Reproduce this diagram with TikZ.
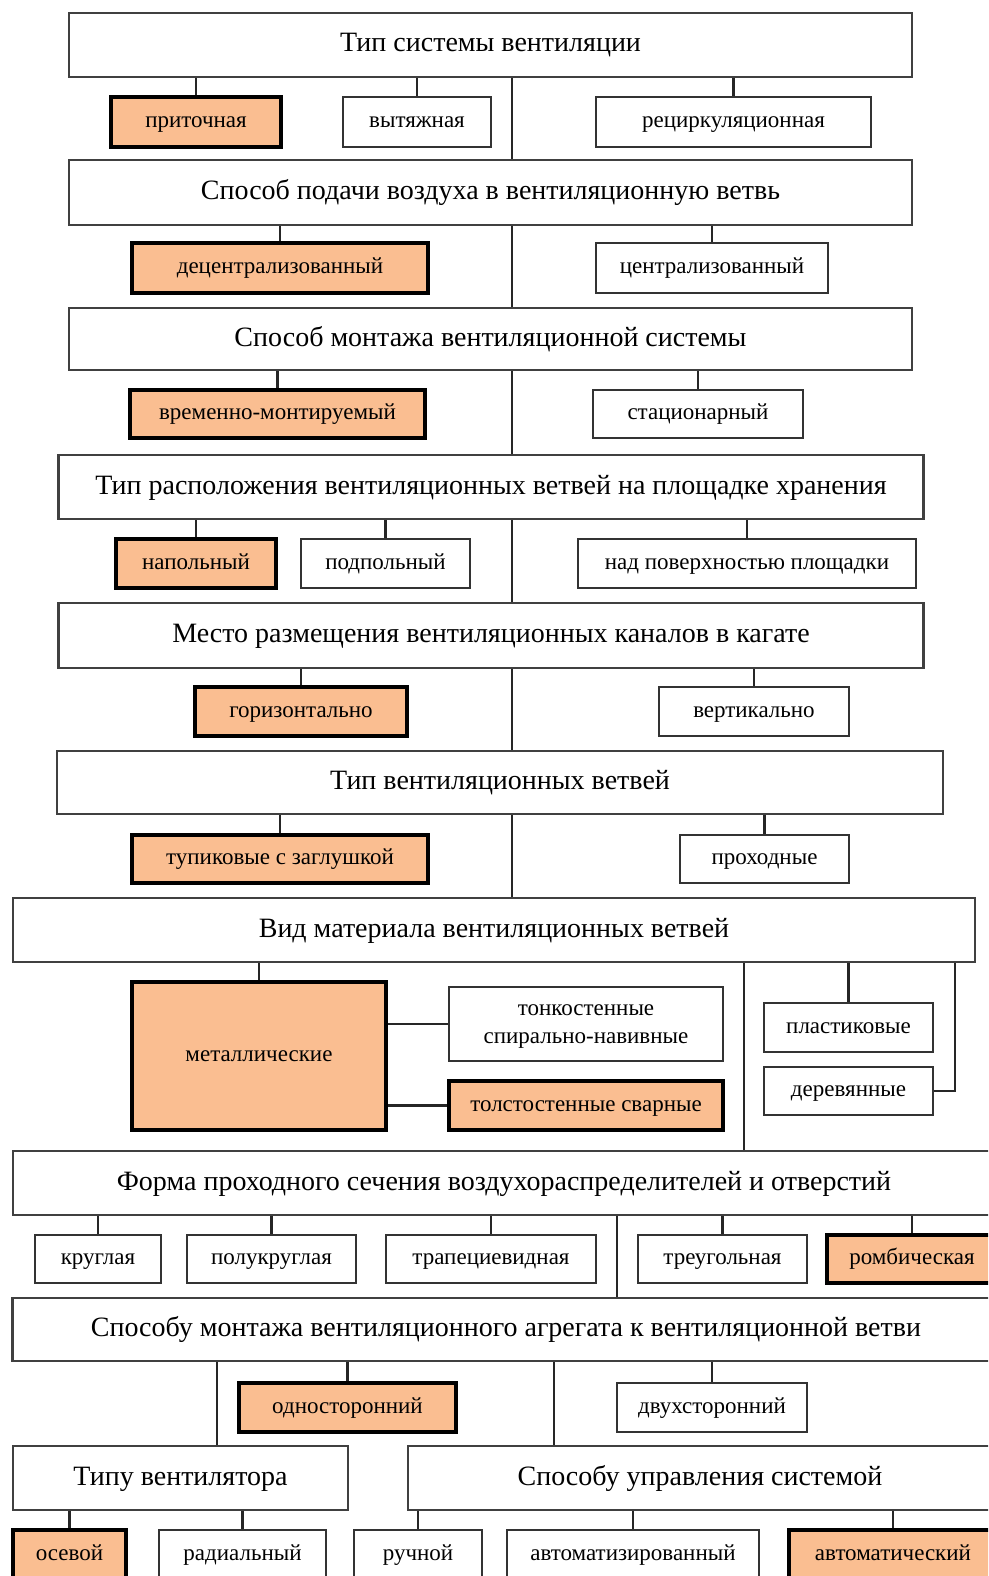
\documentclass[tikz,border=0pt]{standalone}
\usepackage{fontspec}
\setmainfont{Liberation Serif}
\definecolor{peach}{RGB}{250,190,145}
\tikzset{
  head/.style={draw=black!75, line width=2.6pt, fill=white, inner sep=0pt, text height=17pt, text depth=3pt, font=\fontsize{28}{32}\selectfont},
  item/.style={draw=black!80, line width=2.4pt, fill=white, inner sep=0pt, align=center, text height=14pt, text depth=2.5pt, font=\fontsize{23}{28}\selectfont},
  chosen/.style={item, draw=black, line width=4pt, fill=peach},
  link/.style={line width=2.4pt, draw=black!85},
}
\begin{document}
\begin{tikzpicture}[x=1pt, y=-1pt]
\useasboundingbox (0,0) rectangle (988,1576);
\clip (0,0) rectangle (988,1576);
% system type
\node[head, minimum width=843pt, minimum height=64pt] (typ) at (490.5,45) {Тип системы вентиляции};
\node[chosen, minimum width=170pt, minimum height=50pt] (pri) at (196,122) {приточная};
\node[item, minimum width=148pt, minimum height=50pt] (vyt) at (417,122) {вытяжная};
\node[item, minimum width=275pt, minimum height=50pt] (rec) at (733.5,122) {рециркуляционная};
% air supply
\node[head, minimum width=843pt, minimum height=65pt] (podacha) at (490.5,192.5) {Способ подачи воздуха в вентиляционную ветвь};
\node[chosen, minimum width=296pt, minimum height=50pt] (decen) at (280,268) {децентрализованный};
\node[item, minimum width=232pt, minimum height=50pt] (cen) at (712,268) {централизованный};
% mounting
\node[head, minimum width=843pt, minimum height=62pt] (montazh) at (490.5,339) {Способ монтажа вентиляционной системы};
\node[chosen, minimum width=295pt, minimum height=48pt] (vrem) at (277.5,414) {временно-монтируемый};
\node[item, minimum width=210pt, minimum height=48pt] (stac) at (698,414) {стационарный};
% layout
\node[head, minimum width=865pt, minimum height=64pt] (raspol) at (491,487) {Тип расположения вентиляционных ветвей на площадке хранения};
\node[chosen, minimum width=160pt, minimum height=49pt] (napol) at (196,563.5) {напольный};
\node[item, minimum width=169pt, minimum height=49pt] (podpol) at (385.5,563.5) {подпольный};
\node[item, minimum width=338pt, minimum height=49pt] (nadpov) at (747,563.5) {над поверхностью площадки};
% channel place
\node[head, minimum width=865pt, minimum height=65pt] (mesto) at (491,635.5) {Место размещения вентиляционных каналов в кагате};
\node[chosen, minimum width=212pt, minimum height=49pt] (gor) at (301,711.5) {горизонтально};
\node[item, minimum width=190pt, minimum height=49pt] (vert) at (754,711.5) {вертикально};
% branch type
\node[head, minimum width=886pt, minimum height=63pt] (tipvet) at (500,782.5) {Тип вентиляционных ветвей};
\node[chosen, minimum width=296pt, minimum height=48pt] (tup) at (280,859) {тупиковые с заглушкой};
\node[item, minimum width=169pt, minimum height=48pt] (proh) at (764.5,859) {проходные};
% material
\node[head, minimum width=962pt, minimum height=64pt] (mater) at (494,930) {Вид материала вентиляционных ветвей};
\node[chosen, minimum width=254pt, minimum height=148pt] (metal) at (259,1056) {металлические};
\node[item, minimum width=274pt, minimum height=74pt, text height=42pt] (tonk) at (586,1024) {тонкостенные\\спирально-навивные};
\node[chosen, minimum width=274pt, minimum height=49pt] (tolst) at (586,1105.5) {толстостенные сварные};
\node[item, minimum width=169pt, minimum height=49pt] (plast) at (848.5,1027.5) {пластиковые};
\node[item, minimum width=169pt, minimum height=48pt] (derev) at (848.5,1091) {деревянные};
% cross-section
\node[head, minimum width=982pt, minimum height=64pt] (forma) at (504,1183) {Форма проходного сечения воздухораспределителей и отверстий};
\node[item, minimum width=126pt, minimum height=48pt] (krug) at (98,1259) {круглая};
\node[item, minimum width=169pt, minimum height=48pt] (polukr) at (271.5,1259) {полукруглая};
\node[item, minimum width=210pt, minimum height=48pt] (trap) at (491,1259) {трапециевидная};
\node[item, minimum width=169pt, minimum height=48pt] (treug) at (722.5,1259) {треугольная};
\node[chosen, minimum width=170pt, minimum height=48pt] (romb) at (912,1259) {ромбическая};
% unit mounting
\node[head, minimum width=987pt, minimum height=63pt] (agreg) at (506,1329.5) {Способу монтажа вентиляционного агрегата к вентиляционной ветви};
\node[chosen, minimum width=217pt, minimum height=49pt] (odno) at (347.5,1407.5) {односторонний};
\node[item, minimum width=190pt, minimum height=49pt] (dvuh) at (712,1407.5) {двухсторонний};
\node[head, minimum width=335pt, minimum height=64pt] (tipvent) at (180.5,1478) {Типу вентилятора};
\node[head, minimum width=584pt, minimum height=64pt] (uprav) at (700,1478) {Способу управления системой};
\node[chosen, minimum width=113pt, minimum height=50pt] (osev) at (69.5,1555) {осевой};
\node[item, minimum width=167pt, minimum height=50pt] (rad) at (242.5,1555) {радиальный};
\node[item, minimum width=128pt, minimum height=50pt] (ruch) at (418,1555) {ручной};
\node[item, minimum width=252pt, minimum height=50pt] (avtz) at (633,1555) {автоматизированный};
\node[chosen, minimum width=208pt, minimum height=50pt] (avtm) at (893,1555) {автоматический};
% trunks
\coordinate (trA) at (512,0);
\coordinate (trB) at (744,0);
\coordinate (trC) at (617,0);
\coordinate (trD) at (217,0);
\coordinate (trE) at (554,0);
\coordinate (wd) at (955,0);
\draw[link] (typ.south -| trA) -- (podacha.north -| trA);
\draw[link] (podacha.south -| trA) -- (montazh.north -| trA);
\draw[link] (montazh.south -| trA) -- (raspol.north -| trA);
\draw[link] (raspol.south -| trA) -- (mesto.north -| trA);
\draw[link] (mesto.south -| trA) -- (tipvet.north -| trA);
\draw[link] (tipvet.south -| trA) -- (mater.north -| trA);
\draw[link] (mater.south -| trB) -- (forma.north -| trB);
\draw[link] (forma.south -| trC) -- (agreg.north -| trC);
\draw[link] (agreg.south -| trD) -- (tipvent.north -| trD);
\draw[link] (agreg.south -| trE) -- (uprav.north -| trE);
% branches
\foreach \h/\n in {typ/pri, typ/vyt, typ/rec, podacha/decen, podacha/cen, montazh/vrem, montazh/stac,
    raspol/napol, raspol/podpol, raspol/nadpov, mesto/gor, mesto/vert, tipvet/tup, tipvet/proh,
    mater/metal, mater/plast, forma/krug, forma/polukr, forma/trap, forma/treug, forma/romb,
    agreg/odno, agreg/dvuh, tipvent/osev, tipvent/rad, uprav/ruch, uprav/avtz, uprav/avtm}
  \draw[link] (\h.south -| \n) -- (\n.north);
\draw[link] (metal.east |- tonk) -- (tonk.west);
\draw[link] (metal.east |- tolst) -- (tolst.west);
\draw[link] (mater.south -| wd) |- (derev.east);
\end{tikzpicture}
\end{document}
